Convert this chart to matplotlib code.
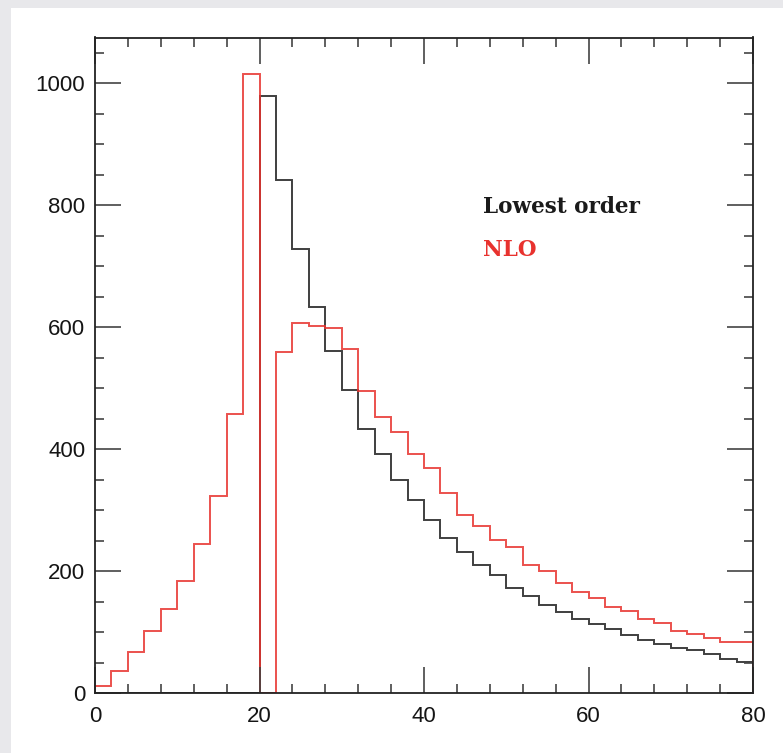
import numpy as np
import matplotlib
matplotlib.use('Agg')
import matplotlib.pyplot as plt
from matplotlib.patches import Rectangle
from matplotlib.ticker import MultipleLocator

# bin edges, width 2 from 0 to 80
edges = np.arange(0, 82, 2)

# lowest order histogram (zero below 20)
lo = [0, 0, 0, 0, 0, 0, 0, 0, 0, 0,
      979, 841, 728, 634, 561, 497, 434, 392, 350, 317,
      284, 254, 232, 210, 194, 173, 160, 145, 134, 122,
      114, 105, 96, 87, 80, 75, 71, 64, 57, 52]

# NLO histogram
nlo = [12, 37, 68, 102, 139, 184, 245, 323, 458, 1015,
       0, 560, 607, 602, 598, 564, 495, 453, 429, 392,
       369, 328, 293, 274, 251, 239, 211, 201, 180, 166,
       157, 142, 135, 121, 116, 102, 98, 90, 84, 84]

fig = plt.figure(figsize=(7.83, 7.53), dpi=100)
fig.patch.set_facecolor('#e8e8eb')
# white page inside the grey screenshot border
fig.patches.append(Rectangle((11/783, 0), 1, 1 - 8/753, transform=fig.transFigure,
                             facecolor='white', edgecolor='none', zorder=-10))

ax = fig.add_axes([95/783, 59.7/753, 658/783, 655.8/753])
ax.set_facecolor('none')
ax.set_zorder(5)

ax.stairs(lo, edges, color='#1e1e1e', linewidth=1.4, alpha=0.85)
ax.stairs(nlo, edges, color='#e8322e', linewidth=1.4, alpha=0.85)

ax.set_xlim(0, 80)
ax.set_ylim(0, 1075)

ax.xaxis.set_major_locator(MultipleLocator(20))
ax.xaxis.set_minor_locator(MultipleLocator(4))
ax.yaxis.set_major_locator(MultipleLocator(200))
ax.yaxis.set_minor_locator(MultipleLocator(50))
ax.tick_params(which='both', direction='in', top=True, right=True, width=1.2, color='#444444')
ax.tick_params(which='major', length=19, labelsize=16)
ax.tick_params(axis='x', which='major', pad=9)
ax.tick_params(axis='y', which='major', pad=7)
ax.tick_params(which='minor', length=6.5)
for lab in ax.get_xticklabels() + ax.get_yticklabels():
    lab.set_family('Liberation Sans')
    lab.set_color('#151515')
for s in ax.spines.values():
    s.set_linewidth(1.3)
    s.set_color('#222222')

ax.text(47.2, 797, 'Lowest order', fontsize=15.5, family='DejaVu Serif', weight='bold',
        color='#1a1a1a', va='center', ha='left')
ax.text(47.2, 727, 'NLO', fontsize=15.5, family='DejaVu Serif', weight='bold',
        color='#e8322e', va='center', ha='left')

plt.savefig('out.png', dpi=100, facecolor=fig.get_facecolor())
